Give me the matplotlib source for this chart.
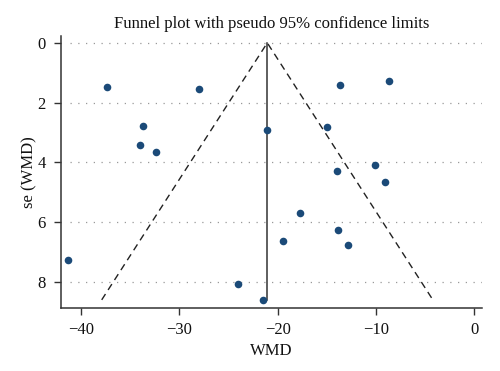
import matplotlib
matplotlib.use("Agg")
import matplotlib.pyplot as plt
import numpy as np

wmd = [-41.3, -37.35, -33.72, -33.99, -32.4, -27.98, -24.0, -21.47, -21.05,
       -19.5, -17.7, -14.98, -13.96, -13.63, -13.8, -12.88, -10.1, -9.11, -8.67]
se = [7.28, 1.47, 2.78, 3.41, 3.65, 1.55, 8.08, 8.6, 2.93,
      6.62, 5.71, 2.82, 4.28, 1.40, 6.25, 6.77, 4.09, 4.67, 1.26]
pooled = -21.05
se_max = 8.6
xticks = [-40, -30, -20, -10, 0]
yticks = [0, 2, 4, 6, 8]

plt.rcParams['font.family'] = ['Liberation Serif', 'DejaVu Serif']

fig = plt.figure(figsize=(5, 3.71), dpi=100)
ax = fig.add_axes([0.122, 0.170, 0.842, 0.733])

for t in yticks:
    ax.plot([-41.1, 0.81], [t, t], linestyle=(0, (1, 5.2)), color='#999999', lw=0.9, zorder=1)

ax.plot([pooled - 1.96 * se_max, pooled, pooled + 1.96 * se_max], [se_max, 0, se_max],
        linestyle=(0, (5, 3.5)), color='#222222', lw=1.0, zorder=2)
ax.plot([pooled, pooled], [0, se_max], color='#333333', lw=1.1, zorder=2)

ax.scatter(wmd, se, s=30, color='#1b4a78', zorder=3, linewidths=0)

ax.set_xlim(-42.05, 0.81)
ax.set_ylim(8.87, -0.23)
ax.set_xticks(xticks)
ax.set_xticklabels(['\u221240', '\u221230', '\u221220', '\u221210', '0'])
ax.set_yticks(yticks)
ax.tick_params(axis='both', labelsize=12, length=5, width=1.0, color='#333333', labelcolor='#111111')
ax.tick_params(axis='x', pad=5)
ax.tick_params(axis='y', pad=6)
for s in ['top', 'right']:
    ax.spines[s].set_visible(False)
for s in ['left', 'bottom']:
    ax.spines[s].set_color('#333333')
    ax.spines[s].set_linewidth(1.1)

ax.set_xlabel('WMD', fontsize=12, color='#111111', labelpad=4)
ax.set_ylabel('se (WMD)', fontsize=12, color='#111111', labelpad=0)
fig.text(0.544, 0.935, 'Funnel plot with pseudo 95% confidence limits', ha='center', va='center',
         fontsize=12, color='#111111')

fig.savefig('out.png', dpi=100)
